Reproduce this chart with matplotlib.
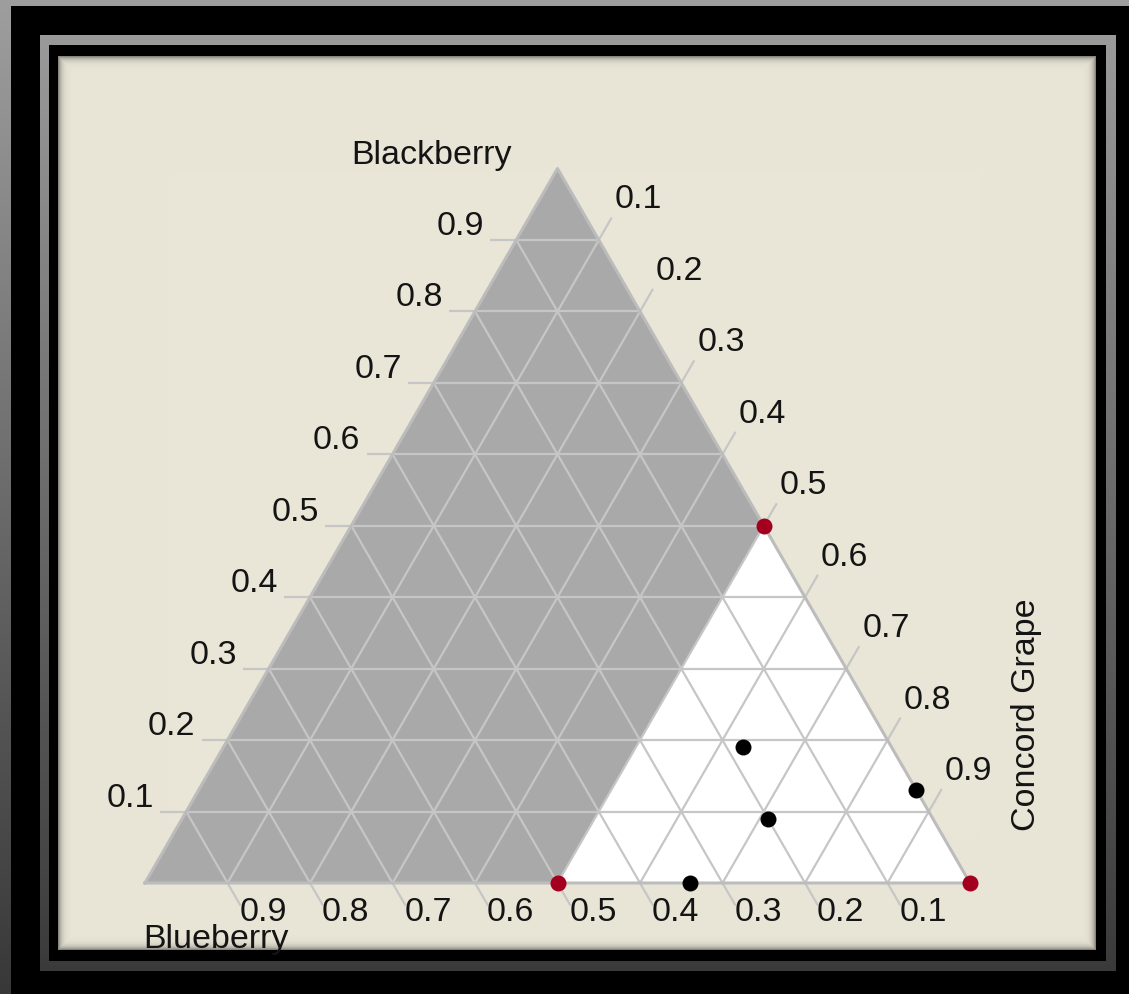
""" Ternary mixing diagram for three fruit juices """
import numpy as np
import matplotlib
matplotlib.use('Agg')
import matplotlib.pyplot as plt
from matplotlib.patches import Polygon

plt.rcParams['font.family'] = ['Liberation Sans', 'DejaVu Sans']

# compositions are given as (blueberry, blackberry, concord grape)
axis_names = ['Blueberry', 'Blackberry', 'Concord Grape']
tick_values = [0.1, 0.2, 0.3, 0.4, 0.5, 0.6, 0.7, 0.8, 0.9]
tick_labels = ['0.1', '0.2', '0.3', '0.4', '0.5', '0.6', '0.7', '0.8', '0.9']

# feasible region: concord grape share at least this much
grape_limit = 0.5

# vertices of the feasible region
vertex_blueberry = [0.0, 0.5, 0.0]
vertex_blackberry = [0.5, 0.0, 0.0]
vertex_grape = [0.5, 0.5, 1.0]

# design points
blueberry = [0.18, 0.00, 0.20, 0.34]
blackberry = [0.19, 0.13, 0.09, 0.00]
grape = [0.63, 0.87, 0.71, 0.66]

# layout (pixels)
W, H, DPI = 1129, 995, 100
SIDE_PX = 825.0          # triangle side length
ORIGIN_PX = (145, 884)   # blueberry corner, from top-left
TICK = 26 / SIDE_PX
FS = 24.5

BEIGE = np.array([233, 230, 215]) / 255.
GRID = '#c6c6c6'
SHADE = '#a9a9a9'
RED = '#a3001f'
TXT = '#141414'
S3 = np.sqrt(3) / 2


def to_xy(u, b, g):
    u, b, g = (np.asarray(v, dtype=float) for v in (u, b, g))
    tot = u + b + g
    return (g + b / 2) / tot, (b * S3) / tot


def frame_image():
    """ beveled picture frame with a recessed beige panel """
    shade = np.linspace(0.62, 0.22, H)[:, None] * np.ones((1, W))
    img = np.repeat(shade[:, :, None], 3, axis=2)
    img[7:, 11:] = 0.0
    img[36:972, 40:1116] = shade[36:972, 40:1116, None]
    img[46:962, 49:1106] = 0.0
    y0, y1, x0, x1 = 57, 951, 58, 1096
    yy, xx = np.mgrid[y0:y1, x0:x1]
    d = np.minimum.reduce([xx - x0, x1 - 1 - xx, yy - y0, y1 - 1 - yy]).astype(float)
    fac = 1 - 0.42 * np.exp(-d / 3.2)
    img[y0:y1, x0:x1] = BEIGE[None, None, :] * fac[:, :, None]
    return img


fig = plt.figure(figsize=(W / DPI, H / DPI), dpi=DPI, facecolor='black')
ax = fig.add_axes([0, 0, 1, 1])
ax.set_axis_off()

ax.imshow(frame_image(), extent=[0, 1, 0, 1], transform=ax.transAxes,
          interpolation='nearest', aspect='auto', zorder=0)

# shaded (infeasible) and white (feasible) regions
gl = grape_limit
px, py = to_xy([1, 0, 0, 1 - gl], [0, 1, 1 - gl, 0], [0, 0, gl, gl])
ax.add_patch(Polygon(np.column_stack([px, py]), closed=True, facecolor=SHADE,
                     edgecolor='none', zorder=1))
wx, wy = to_xy([0, 0, 1 - gl], [1 - gl, 0, 0], [gl, 1, gl])
ax.add_patch(Polygon(np.column_stack([wx, wy]), closed=True, facecolor='white',
                     edgecolor='none', zorder=1))

# grid lines and ticks
for k, lab in zip(tick_values, tick_labels):
    # constant blackberry
    x, y = to_xy([1 - k, 0], [k, k], [0, 1 - k])
    ax.plot([x[0] - TICK, x[1]], y, color=GRID, lw=1.6, zorder=2, solid_capstyle='butt')
    ax.annotate(lab, (x[0] - TICK, y[0]), xytext=(-6, 6), textcoords='offset pixels',
                ha='right', va='baseline', fontsize=FS, color=TXT)
    # constant concord grape
    x, y = to_xy([1 - k, 0], [0, 1 - k], [k, k])
    xe, ye = x[1] + TICK * 0.5, y[1] + TICK * S3
    ax.plot([x[0], xe], [y[0], ye], color=GRID, lw=1.6, zorder=2, solid_capstyle='butt')
    ax.annotate(lab, (xe, ye), xytext=(3, 10), textcoords='offset pixels',
                ha='left', va='baseline', fontsize=FS, color=TXT)
    # constant blueberry
    x, y = to_xy([k, k], [1 - k, 0], [0, 1 - k])
    xe, ye = x[1] + TICK * 0.5, y[1] - TICK * S3
    ax.plot([x[0], xe], [y[0], ye], color=GRID, lw=1.6, zorder=2, solid_capstyle='butt')
    ax.annotate(lab, (xe, ye), xytext=(-1, -14), textcoords='offset pixels',
                ha='left', va='baseline', fontsize=FS, color=TXT)

# triangle outline
tx, ty = to_xy([1, 0, 0, 1], [0, 0, 1, 0], [0, 1, 0, 0])
ax.plot(tx, ty, color='#bcbcbc', lw=2.2, zorder=2)

# axis names at the corners
cx, cy = to_xy([1, 0, 0], [0, 1, 0], [0, 0, 1])
ax.annotate(axis_names[0], (cx[0], cy[0]), xytext=(-2, -64), textcoords='offset pixels',
            ha='left', va='baseline', fontsize=FS, color=TXT)
ax.annotate(axis_names[1], (cx[1], cy[1]), xytext=(-126, 6), textcoords='offset pixels',
            ha='center', va='baseline', fontsize=FS, color=TXT)
ax.annotate(axis_names[2], (cx[2], cy[2]), xytext=(56, 169), textcoords='offset pixels',
            ha='center', va='center', rotation=90, fontsize=FS, color=TXT)

# points
vx, vy = to_xy(vertex_blueberry, vertex_blackberry, vertex_grape)
ax.plot(vx, vy, 'o', color=RED, ms=11.5, mec='none', zorder=4, clip_on=False)
dx, dy = to_xy(blueberry, blackberry, grape)
ax.plot(dx, dy, 'o', color='black', ms=11.5, mec='none', zorder=4, clip_on=False)

ox, oy = ORIGIN_PX
ax.set_xlim(-ox / SIDE_PX, (W - ox) / SIDE_PX)
ax.set_ylim(-(H - oy) / SIDE_PX, oy / SIDE_PX)

fig.savefig('out.png', dpi=DPI, facecolor='black')
